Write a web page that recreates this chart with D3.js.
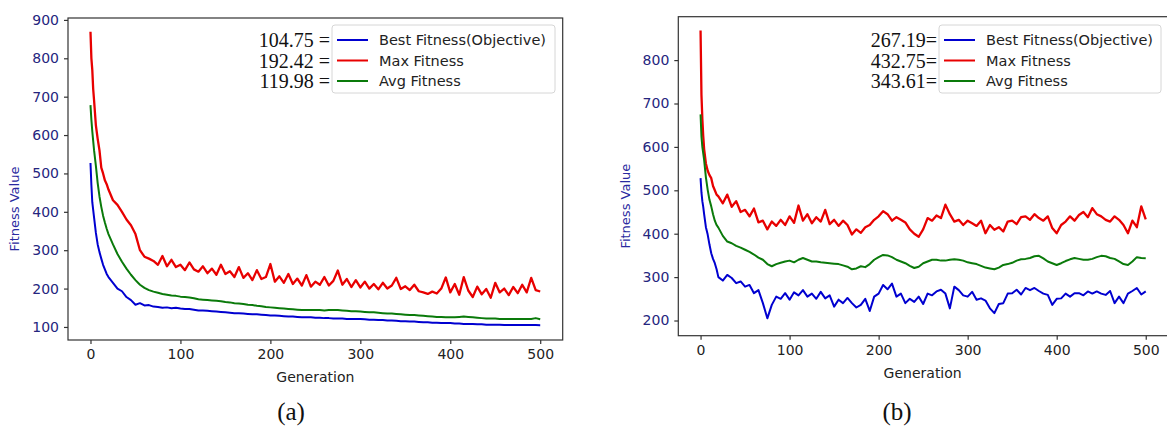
<!DOCTYPE html>
<html>
<head>
<meta charset="utf-8">
<script src="https://cdnjs.cloudflare.com/ajax/libs/d3/7.8.5/d3.min.js"></script>
<style>
  body { margin: 0; background: #fff; }
  svg { display: block; }
  .axis path, .axis line { stroke: #333; stroke-width: 1.2; }
  .axis text { font-family: "DejaVu Sans", sans-serif; font-size: 14px; }
  .axis-y text { fill: #25257e; }
  .axis-x text { fill: #222; }
</style>
</head>
<body>
<svg id="chart" width="1167" height="427"></svg>
<script>

// generations sampled (dense at the start, every 5 after 20)
var gens = [0, 1, 2, 3, 4, 6, 8, 10, 12, 14, 16, 18, 20].concat(d3.range(25, 501, 5));

var seriesNames = ["Best Fitness(Objective)", "Max Fitness", "Avg Fitness"];
var seriesColors = ["#0000d0", "#e80000", "#0a7a0a"];
var seriesWidths = [2, 2.3, 2];

// (a) values
var bestA = [527, 470, 425, 405, 385, 345, 315, 295, 278, 262, 250, 238, 230,
  215, 200, 193, 178, 170, 158, 162, 156, 157, 153,
  152, 150, 151, 149, 150, 148, 147, 147, 145, 143,
  143, 142, 141, 140, 139, 138, 137, 136, 136, 135,
  134, 133, 133, 132, 131, 130, 130, 129, 128, 127,
  127, 126, 125, 125, 125, 124, 124, 123, 123, 122,
  122, 122, 121, 121, 121, 121, 120, 119, 119, 118,
  118, 117, 117, 116, 115, 115, 114, 114, 113, 112,
  112, 111, 111, 110, 110, 110, 109, 109, 108, 108,
  108, 107, 107, 106, 106, 106, 106, 105, 105, 105,
  105, 105, 105, 105, 105, 104.75];
var maxA = [869, 800, 770, 720, 690, 625, 590, 560, 515, 500, 482, 472, 458,
  430, 418, 400, 380, 365, 342, 300, 283, 278, 272,
  262, 285, 258, 275, 256, 262, 248, 268, 250, 244,
  258, 240, 252, 236, 262, 238, 245, 230, 256, 228,
  240, 222, 248, 225, 230, 264, 218, 232, 215, 238,
  212, 226, 208, 235, 205, 218, 210, 230, 208, 220,
  247, 210, 225, 204, 222, 203, 218, 200, 212, 198,
  215, 200, 208, 228, 199, 206, 196, 210, 193, 190,
  186, 192, 187, 200, 229, 190, 212, 184, 230, 195,
  178, 205, 185, 199, 176, 215, 190, 200, 183, 204,
  188, 210, 190, 228, 196, 192.42];
var avgA = [678, 640, 610, 585, 560, 520, 475, 440, 413, 390, 372, 356, 342,
  315, 290, 270, 252, 236, 222, 210, 202, 196, 192,
  189, 186, 184, 182, 181, 179, 178, 177, 175, 172,
  171, 170, 169, 168, 167, 165, 164, 162, 161, 160,
  158, 157, 155, 154, 152, 151, 150, 149, 148, 147,
  146, 145, 144, 144, 144, 144, 144, 143, 144, 144,
  144, 143, 142, 141, 141, 140, 139, 138, 138, 137,
  136, 135, 135, 134, 133, 132, 131, 131, 130, 129,
  128, 127, 126, 126, 125, 125, 125, 126, 127, 126,
  125, 124, 123, 122, 122, 122, 121, 121, 121, 121,
  121, 121, 121, 121, 123, 119.98];

// (b) values
var bestB = [528, 495, 475, 462, 445, 415, 398, 375, 355, 342, 332, 318, 300,
  292, 305, 298, 286, 290, 278, 282, 263, 270, 240,
  205, 236, 255, 250, 263, 248, 265, 258, 270, 255,
  262, 250, 266, 251, 258, 232, 248, 240, 252, 240,
  230, 236, 250, 222, 255, 262, 282, 272, 285, 255,
  262, 240, 250, 243, 255, 238, 262, 258, 267, 271,
  262, 228, 278, 270, 258, 255, 266, 248, 251, 246,
  228, 217, 238, 240, 262, 263, 271, 260, 275, 270,
  275, 268, 262, 259, 236, 250, 251, 262, 255, 263,
  263, 258, 267, 262, 267, 262, 259, 268, 240, 255,
  240, 262, 268, 275, 260, 267.19];
var maxB = [868, 720, 665, 625, 595, 562, 545, 535, 528, 510, 500, 490, 486,
  470, 490, 462, 475, 450, 455, 440, 458, 426, 430,
  410, 428, 418, 432, 420, 440, 425, 465, 430, 445,
  424, 438, 428, 455, 422, 432, 418, 430, 420, 398,
  410, 402, 415, 420, 432, 440, 452, 445, 430, 438,
  432, 426, 410, 400, 393, 410, 436, 430, 442, 436,
  467, 445, 428, 432, 420, 430, 424, 418, 430, 401,
  420, 409, 415, 405, 428, 430, 422, 438, 440, 432,
  445, 436, 430, 440, 413, 401, 420, 428, 440, 430,
  443, 450, 438, 459, 445, 440, 432, 428, 440, 432,
  420, 401, 430, 415, 463, 432.75];
var avgB = [675, 624, 600, 585, 570, 530, 501, 478, 463, 445, 430, 420, 414,
  395, 382, 378, 372, 368, 363, 358, 352, 345, 340,
  330, 325, 330, 333, 336, 338, 334, 340, 344, 340,
  336, 336, 334, 333, 332, 331, 330, 327, 324, 318,
  320, 325, 323, 330, 340, 346, 351, 350, 346, 340,
  336, 332, 326, 321, 324, 332, 336, 340, 340, 338,
  338, 340, 341, 340, 338, 334, 332, 330, 326, 322,
  320, 318, 322, 328, 330, 333, 338, 341, 342, 344,
  348, 349, 343, 336, 332, 328, 332, 337, 341, 344,
  342, 340, 340, 342, 346, 349, 348, 344, 342, 336,
  330, 328, 336, 346, 344, 343.61];

var xTicks = [0, 100, 200, 300, 400, 500];
var yTicksA = [100, 200, 300, 400, 500, 600, 700, 800, 900];
var yTicksB = [200, 300, 400, 500, 600, 700, 800];

var labelsA = ["104.75 =", "192.42 =", "119.98 ="];
var labelsB = ["267.19=", "432.75=", "343.61="];

var svg = d3.select("#chart");

function drawPanel(p) {
  var x = d3.scaleLinear().domain([-25, 525]).range([p.left, p.right]);
  var y = d3.scaleLinear().domain(p.yDomain).range([p.bottom, p.top]);

  var g = svg.append("g");

  // frame
  g.append("rect")
    .attr("x", p.left)
    .attr("y", p.top)
    .attr("width", p.right - p.left)
    .attr("height", p.bottom - p.top)
    .style("fill", "none")
    .style("stroke", "#333")
    .style("stroke-width", 1.2);

  g.append("g")
    .attr("class", "axis axis-x")
    .attr("transform", "translate(0," + p.bottom + ")")
    .call(d3.axisBottom(x).tickValues(xTicks).tickSize(4).tickPadding(5).tickFormat(d3.format("d")))
    .call(function (s) { s.select(".domain").remove(); });

  g.append("g")
    .attr("class", "axis axis-y")
    .attr("transform", "translate(" + p.left + ",0)")
    .call(d3.axisLeft(y).tickValues(p.yTicks).tickSize(4).tickPadding(5).tickFormat(d3.format("d")))
    .call(function (s) { s.select(".domain").remove(); });

  var line = d3.line()
    .x(function (d, i) { return x(gens[i]); })
    .y(function (d) { return y(d); });

  // draw order: best, max, avg
  p.series.forEach(function (vals, i) {
    g.append("path")
      .datum(vals)
      .attr("d", line)
      .style("fill", "none")
      .style("stroke", seriesColors[i])
      .style("stroke-width", seriesWidths[i])
      .style("stroke-linejoin", "round");
  });

  // axis titles
  g.append("text")
    .text("Generation")
    .attr("x", (p.left + Math.min(p.right, 1167)) / 2)
    .attr("y", p.bottom + 42)
    .style("text-anchor", "middle")
    .style("font-family", "DejaVu Sans, sans-serif")
    .style("font-size", "14px")
    .style("fill", "#222");

  g.append("text")
    .text("Fitness Value")
    .attr("transform", "translate(" + p.yLabelX + "," + ((p.top + p.bottom) / 2 + 30) + ") rotate(-90)")
    .style("text-anchor", "middle")
    .style("font-family", "DejaVu Sans, sans-serif")
    .style("font-size", "13px")
    .style("fill", "#2a2aa0");

  // legend
  g.append("rect")
    .attr("x", p.legX)
    .attr("y", 25)
    .attr("width", p.legW)
    .attr("height", 68)
    .attr("rx", 3)
    .style("fill", "#fff")
    .style("stroke", "#d6d6d6")
    .style("stroke-width", 1);

  seriesNames.forEach(function (name, i) {
    var ly = 40 + i * 20.5;
    g.append("line")
      .attr("x1", p.legX + 5)
      .attr("x2", p.legX + 36)
      .attr("y1", ly)
      .attr("y2", ly)
      .style("stroke", seriesColors[i])
      .style("stroke-width", 2);
    g.append("text")
      .text(name)
      .attr("x", p.legX + 47)
      .attr("y", ly + 5)
      .style("font-family", "DejaVu Sans, sans-serif")
      .style("font-size", "14.5px")
      .style("fill", "#222");
    g.append("text")
      .text(p.labels[i])
      .attr("x", p.legX - 2)
      .attr("y", ly + 7)
      .style("text-anchor", "end")
      .style("font-family", "Liberation Serif, Times New Roman, serif")
      .style("font-size", "20px")
      .style("fill", "#111");
  });

  g.append("text")
    .text(p.caption)
    .attr("x", p.capX)
    .attr("y", 420)
    .style("text-anchor", "middle")
    .style("font-family", "Liberation Serif, Times New Roman, serif")
    .style("font-size", "25px")
    .style("fill", "#111");
}

drawPanel({
  left: 68, right: 562.7, top: 18, bottom: 340,
  yDomain: [66, 905], yTicks: yTicksA,
  series: [bestA, maxA, avgA],
  labels: labelsA,
  legX: 332, legW: 223,
  yLabelX: 19,
  caption: "(a)", capX: 291
});

drawPanel({
  left: 678.3, right: 1168, top: 16.7, bottom: 335.7,
  yDomain: [165, 900], yTicks: yTicksB,
  series: [bestB, maxB, avgB],
  labels: labelsB,
  legX: 939, legW: 222,
  yLabelX: 630,
  caption: "(b)", capX: 897
});

</script>
</body>
</html>
